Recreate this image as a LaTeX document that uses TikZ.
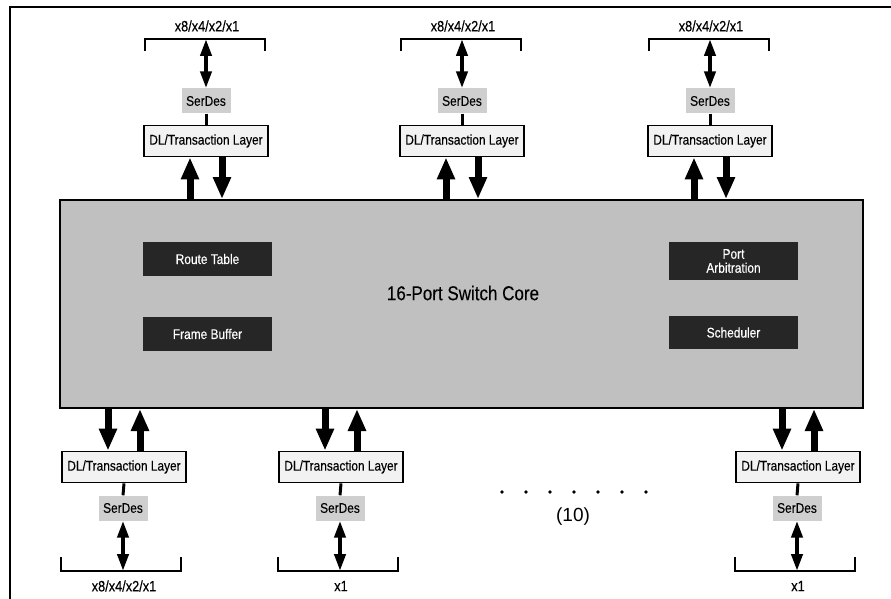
\documentclass[tikz,border=0pt]{standalone}
\usepackage{fontspec}
\setmainfont{Liberation Sans}[FakeStretch=0.85,FakeBold=0.3]
\newfontfamily\plainfont{Liberation Sans}
\newfontfamily\titlefont{Liberation Sans}[FakeStretch=0.85,FakeBold=0.15]
\usetikzlibrary{arrows.meta,calc}
\definecolor{coregray}{HTML}{C0C0C0}
\definecolor{sergray}{HTML}{CFCFCF}
\definecolor{dlfill}{HTML}{F2F2F2}
\definecolor{darkbox}{HTML}{262626}
\begin{document}
\begin{tikzpicture}[x=1pt,y=-1pt,
  dlbox/.style={draw=black,line width=1.8pt,fill=dlfill,minimum width=124pt,minimum height=31pt,inner sep=0pt,font=\fontsize{14}{16}\selectfont},
  serbox/.style={fill=sergray,minimum width=49pt,minimum height=25pt,inner sep=0pt,font=\fontsize{14}{16}\selectfont},
  innerbox/.style={fill=darkbox,text=white,minimum width=129pt,inner sep=0pt,align=center,font=\fontsize{14}{16}\selectfont},
  lanelabel/.style={inner sep=0pt,font=\fontsize{15}{17}\selectfont},
  bigarrow/.style={line width=7pt,-{Triangle[length=22pt,width=17pt]}},
  dblarrow/.style={line width=4pt,{Triangle[length=17pt,width=11pt]}-{Triangle[length=17pt,width=11pt]}},
  brackline/.style={line width=2pt},
  joinline/.style={line width=3pt}]
\useasboundingbox (0,0) rectangle (891,599);
% outer frame
\draw[line width=2.5pt] (10,599) -- (10,7) -- (891,7);
% core
\node[draw=black,line width=2pt,fill=coregray,minimum width=803pt,minimum height=208pt,inner sep=0pt] (core) at (461.5,304) {};
\node[inner sep=0pt,font=\titlefont\fontsize{20}{22}\selectfont] (title) at (463,293) {16-Port Switch Core};
\node[innerbox,minimum height=34pt] (route) at (207.5,259) {Route Table};
\node[innerbox,minimum height=34pt] (frame) at (207.5,334) {Frame Buffer};
\node[innerbox,minimum height=38pt] (arb) at (733.5,261) {Port\\[-2pt]Arbitration};
\node[innerbox,minimum height=33pt] (sched) at (733.5,332.5) {Scheduler};
% top ports
\foreach \n/\c in {t1/206,t2/462,t3/710}{
  \node[dlbox] (dl\n) at (\c,141) {DL/Transaction Layer};
  \node[serbox] (ser\n) at (\c,101) {SerDes};
  \coordinate (br\n) at (\c,39);
  \node[lanelabel] (lab\n) at (\c+1,26) {x8/x4/x2/x1};
  \draw[brackline] (\c-61,51) -- (\c-61,39) -- (\c+59,39) -- (\c+59,51);
  \draw[dblarrow] (ser\n.north) -- (br\n);
  \draw[joinline] (ser\n.south) -- (dl\n.north);
  \draw[bigarrow] ([xshift=-16pt]dl\n.south |- core.north) -- ([xshift=-16pt]dl\n.south);
  \draw[bigarrow] ([xshift=16pt]dl\n.south) -- ([xshift=16pt]dl\n.south |- core.north);
}
% bottom ports
\foreach \n/\c/\l in {b1/123/x8\slash x4\slash x2\slash x1,b2/340/x1,b3/797/x1}{
  \node[dlbox] (dl\n) at (\c+1,467) {DL/Transaction Layer};
  \node[serbox] (ser\n) at (\c,508) {SerDes};
  \coordinate (br\n) at (\c,571);
  \node[lanelabel] (lab\n) at (\c+1,586) {\l};
  \draw[brackline] (\c-62,557) -- (\c-62,571) -- (\c+58,571) -- (\c+58,557);
  \draw[dblarrow] (ser\n.south) -- (br\n);
  \draw[joinline] (ser\n.north) -- (dl\n.south);
  \draw[bigarrow] ([xshift=-16pt]dl\n.north |- core.south) -- ([xshift=-16pt]dl\n.north);
  \draw[bigarrow] ([xshift=16pt]dl\n.north) -- ([xshift=16pt]dl\n.north |- core.south);
}
% dots and count
\foreach \k in {0,...,6}{
  \fill (502+24*\k,492) circle (1.8pt);
}
\node[inner sep=0pt,font=\plainfont\fontsize{19}{21}\selectfont] (count) at (573,517) {(10)};
\end{tikzpicture}
\end{document}
